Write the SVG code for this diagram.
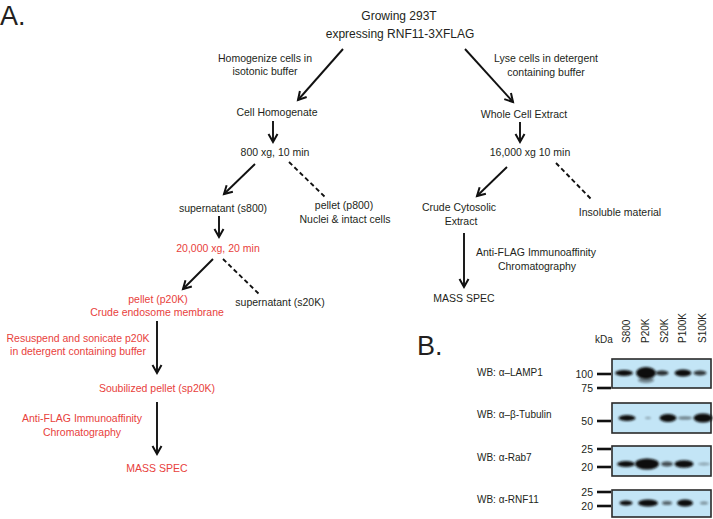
<svg xmlns="http://www.w3.org/2000/svg" width="713" height="519" viewBox="0 0 713 519">
<style>
text{font-family:"Liberation Sans",Arial,sans-serif;fill:#231f20}
.s{font-size:10.5px;text-anchor:middle}
.m{font-size:12px;text-anchor:middle}
.r{fill:#e8413c}
.big{font-size:27px}
.wb{font-size:10px}
.tk{font-size:10.5px;text-anchor:end}
.ln{font-size:10px}
.c{stroke:#111;stroke-width:1.9;fill:none}
.d{stroke:#111;stroke-width:1.9;fill:none;stroke-dasharray:4.5 3}
.tick{stroke:#111;stroke-width:2.6}
.panel{fill:#c3e5f6;stroke:#2a2a2a;stroke-width:1.6}
.band{fill:#0d0d0d;filter:url(#blur)}
</style>
<defs>
<marker id="ah" markerUnits="userSpaceOnUse" markerWidth="14" markerHeight="14" refX="10" refY="6" orient="auto">
<path d="M2,1.5 L10,6 L2,10.5" fill="none" stroke="#111" stroke-width="2"/>
</marker>
<filter id="blur" x="-50%" y="-100%" width="200%" height="300%">
<feGaussianBlur stdDeviation="0.9"/>
</filter>
</defs>
<rect width="713" height="519" fill="#fff"/>

<g id="labelA"><text class="big" x="0" y="25">A.</text></g>

<g id="connectors">
<line class="c" x1="343" y1="49" x2="298" y2="100" marker-end="url(#ah)"/>
<line class="c" x1="465" y1="49" x2="513" y2="102" marker-end="url(#ah)"/>
<line class="c" x1="273" y1="121" x2="273" y2="142" marker-end="url(#ah)"/>
<line class="c" x1="255" y1="164" x2="224" y2="194" marker-end="url(#ah)"/>
<line class="d" x1="289" y1="162" x2="325" y2="197"/>
<line class="c" x1="219" y1="216" x2="219" y2="237" marker-end="url(#ah)"/>
<line class="c" x1="213" y1="259" x2="183" y2="289" marker-end="url(#ah)"/>
<line class="d" x1="223" y1="259" x2="259" y2="294"/>
<line class="c" x1="157" y1="321" x2="157" y2="373" marker-end="url(#ah)"/>
<line class="c" x1="157" y1="402" x2="157" y2="454" marker-end="url(#ah)"/>
<line class="c" x1="520" y1="122" x2="520" y2="142" marker-end="url(#ah)"/>
<line class="c" x1="507" y1="167" x2="477" y2="196" marker-end="url(#ah)"/>
<line class="d" x1="556" y1="163" x2="592" y2="200"/>
<line class="c" x1="464" y1="233" x2="464" y2="287" marker-end="url(#ah)"/>
</g>

<g id="start">
<text class="m" x="399" y="19.5">Growing 293T</text>
<text class="m" x="400" y="37.5">expressing RNF11-3XFLAG</text>
</g>
<g id="lbl-homogenize">
<text class="s" x="265" y="62">Homogenize cells in</text>
<text class="s" x="265" y="75">isotonic buffer</text>
</g>
<g id="lbl-lyse">
<text class="s" x="546" y="62">Lyse cells in detergent</text>
<text class="s" x="546" y="76">containing buffer</text>
</g>
<g id="cell-homogenate"><text class="s" x="277" y="116">Cell Homogenate</text></g>
<g id="spin800"><text class="s" x="275" y="156">800 xg, 10 min</text></g>
<g id="s800"><text class="s" x="223" y="212">supernatant (s800)</text></g>
<g id="p800">
<text class="s" x="344" y="209">pellet (p800)</text>
<text class="s" x="345" y="223">Nuclei &amp; intact cells</text>
</g>
<g id="spin20k"><text class="s r" x="218" y="252">20,000 xg, 20 min</text></g>
<g id="p20k">
<text class="s r" x="158" y="303">pellet (p20K)</text>
<text class="s r" x="157" y="316">Crude endosome membrane</text>
</g>
<g id="s20k"><text class="s" x="280" y="306">supernatant (s20K)</text></g>
<g id="lbl-resuspend">
<text class="s r" x="78" y="342">Resuspend and sonicate p20K</text>
<text class="s r" x="78" y="355">in detergent containing buffer</text>
</g>
<g id="sp20k"><text class="s r" x="157" y="392">Soubilized pellet (sp20K)</text></g>
<g id="lbl-flag-left">
<text class="s r" x="82" y="422">Anti-FLAG Immunoaffinity</text>
<text class="s r" x="82" y="436">Chromatography</text>
</g>
<g id="ms-left"><text class="s r" x="157" y="472">MASS SPEC</text></g>
<g id="whole-cell"><text class="s" x="524" y="118">Whole Cell Extract</text></g>
<g id="spin16k"><text class="s" x="530" y="156">16,000 xg 10 min</text></g>
<g id="cytosolic">
<text class="s" x="459" y="211">Crude Cytosolic</text>
<text class="s" x="461" y="225">Extract</text>
</g>
<g id="insoluble"><text class="s" x="620" y="216">Insoluble material</text></g>
<g id="lbl-flag-right">
<text class="s" x="536" y="256">Anti-FLAG Immunoaffinity</text>
<text class="s" x="537" y="270">Chromatography</text>
</g>
<g id="ms-right"><text class="s" x="464" y="302">MASS SPEC</text></g>

<g id="labelB"><text class="big" x="417" y="355">B.</text></g>

<g id="blot-header">
<text class="ln" x="604" y="343" text-anchor="middle">kDa</text>
<text class="ln" transform="translate(629.5,343) rotate(-90)">S800</text>
<text class="ln" transform="translate(649,343) rotate(-90)">P20K</text>
<text class="ln" transform="translate(668,343) rotate(-90)">S20K</text>
<text class="ln" transform="translate(686,343) rotate(-90)">P100K</text>
<text class="ln" transform="translate(706,343) rotate(-90)">S100K</text>
</g>

<g id="blot-lamp1">
<text class="wb" x="477" y="376">WB: α–LAMP1</text>
<rect class="panel" x="612" y="359" width="99" height="29"/>
<line class="tick" x1="597" y1="374" x2="611" y2="374"/>
<line class="tick" x1="597" y1="388" x2="611" y2="388"/>
<text class="tk" x="593" y="378">100</text>
<text class="tk" x="593" y="392">75</text>
<ellipse class="band" cx="624" cy="373" rx="9" ry="3"/>
<ellipse class="band" cx="646" cy="373" rx="10" ry="6"/>
<ellipse class="band" cx="646" cy="380" rx="8" ry="3" opacity="0.45"/>
<ellipse class="band" cx="662" cy="373" rx="6.5" ry="2.5" opacity="0.85"/>
<ellipse class="band" cx="683" cy="373" rx="8.5" ry="3.5"/>
<ellipse class="band" cx="700" cy="373" rx="6.5" ry="2.5" opacity="0.8"/>
</g>

<g id="blot-tubulin">
<text class="wb" x="477" y="418">WB: α–β-Tubulin</text>
<rect class="panel" x="612" y="403" width="99" height="30"/>
<line class="tick" x1="597" y1="421" x2="611" y2="421"/>
<text class="tk" x="593" y="425">50</text>
<ellipse class="band" cx="627" cy="418" rx="8.5" ry="3"/>
<ellipse class="band" cx="648" cy="418" rx="3" ry="1" opacity="0.35"/>
<ellipse class="band" cx="668" cy="418" rx="8.5" ry="4"/>
<ellipse class="band" cx="685" cy="418" rx="7" ry="1.6" opacity="0.5"/>
<ellipse class="band" cx="703" cy="418" rx="9.5" ry="4.5"/>
</g>

<g id="blot-rab7">
<text class="wb" x="477" y="461">WB: α-Rab7</text>
<rect class="panel" x="612" y="446" width="99" height="30"/>
<line class="tick" x1="597" y1="449" x2="611" y2="449"/>
<line class="tick" x1="597" y1="467" x2="611" y2="467"/>
<text class="tk" x="593" y="453">25</text>
<text class="tk" x="593" y="471">20</text>
<ellipse class="band" cx="626" cy="464" rx="9" ry="3"/>
<ellipse class="band" cx="647" cy="464" rx="12" ry="5.5"/>
<ellipse class="band" cx="667" cy="464" rx="6" ry="2.5" opacity="0.7"/>
<ellipse class="band" cx="684" cy="464" rx="9.5" ry="3.8"/>
<ellipse class="band" cx="704" cy="464" rx="6" ry="1.5" opacity="0.3"/>
</g>

<g id="blot-rnf11">
<text class="wb" x="477" y="503">WB: α-RNF11</text>
<rect class="panel" x="612" y="490" width="99" height="27"/>
<line class="tick" x1="597" y1="492" x2="611" y2="492"/>
<line class="tick" x1="597" y1="506" x2="611" y2="506"/>
<text class="tk" x="593" y="496">25</text>
<text class="tk" x="593" y="510">20</text>
<ellipse class="band" cx="626" cy="503" rx="6.5" ry="2.6"/>
<ellipse class="band" cx="648" cy="503" rx="10" ry="3.6"/>
<ellipse class="band" cx="667" cy="503" rx="5" ry="2" opacity="0.6"/>
<ellipse class="band" cx="685" cy="503" rx="8" ry="3.6"/>
<ellipse class="band" cx="704" cy="503" rx="4" ry="1.5" opacity="0.4"/>
</g>
</svg>
